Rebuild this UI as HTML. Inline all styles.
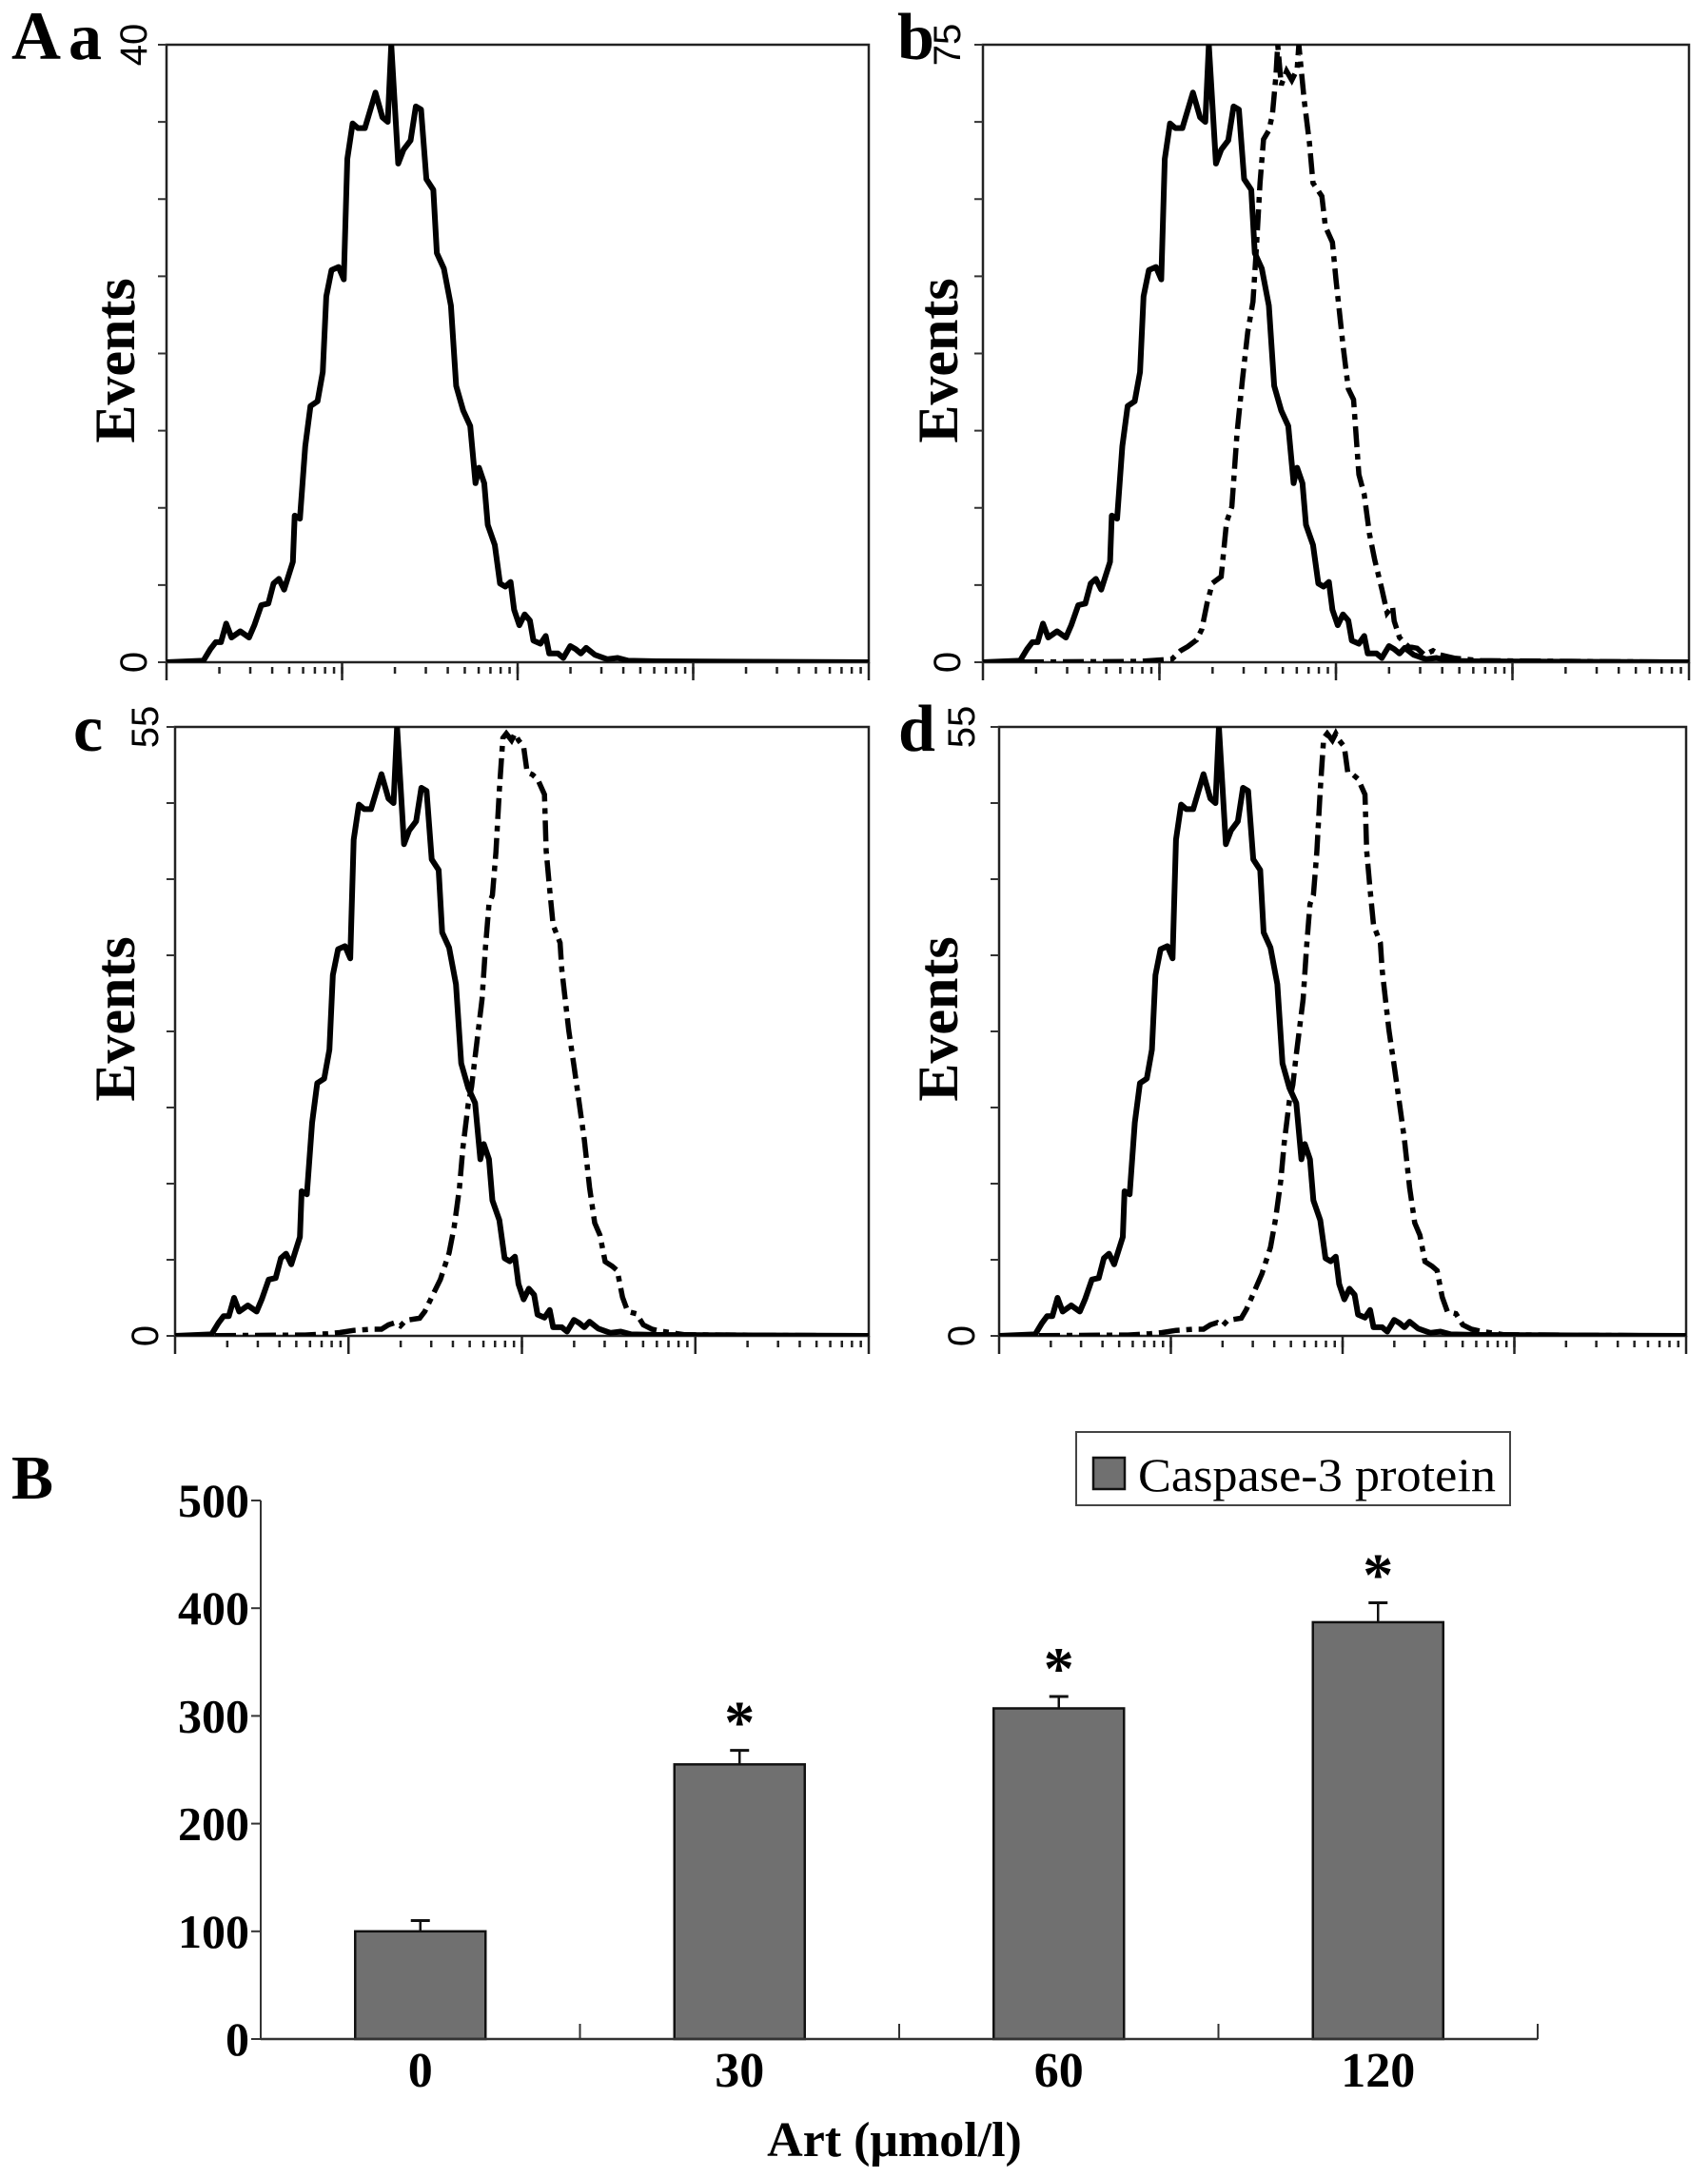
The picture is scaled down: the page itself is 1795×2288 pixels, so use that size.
<!DOCTYPE html>
<html><head><meta charset="utf-8">
<style>
html,body{margin:0;padding:0;background:#fff;}
svg{display:block;}
.serif{font-family:"Liberation Serif",serif;}
.sans{font-family:"Liberation Sans",sans-serif;}
</style></head>
<body>
<svg id="fig" width="1795" height="2288" viewBox="0 0 1795 2288" xmlns="http://www.w3.org/2000/svg"></svg>
<script>
// ---------- Histogram data (x in log decades 0..4, counts) ----------
const solidX = [0,0.21,0.25,0.28,0.31,0.34,0.37,0.42,0.47,0.50,0.54,0.58,0.61,0.64,0.67,0.72,0.73,0.76,0.79,0.82,0.86,0.89,0.91,0.94,0.98,1.01,1.03,1.06,1.09,1.13,1.19,1.23,1.26,1.28,1.32,1.35,1.39,1.42,1.45,1.48,1.52,1.54,1.58,1.62,1.65,1.69,1.73,1.76,1.78,1.81,1.83,1.87,1.90,1.93,1.96,1.98,2.01,2.04,2.07,2.09,2.13,2.16,2.18,2.23,2.26,2.30,2.33,2.36,2.39,2.44,2.51,2.57,2.63,2.79,4.0];
const solidY = [0,0.1,0.85,1.3,1.3,2.5,1.6,2.0,1.6,2.4,3.7,3.8,5.1,5.4,4.7,6.5,9.5,9.3,14.0,16.6,16.9,18.8,23.7,25.4,25.6,24.8,32.6,34.9,34.6,34.6,36.9,35.3,35.0,40.0,32.3,33.2,33.8,36.0,35.8,31.3,30.6,26.5,25.5,23.1,17.9,16.3,15.3,11.6,12.6,11.6,8.9,7.6,5.1,4.9,5.2,3.4,2.4,3.1,2.7,1.4,1.2,1.7,0.57,0.57,0.28,1.05,0.85,0.57,0.93,0.48,0.2,0.28,0.1,0.06,0];
const dashBX = [0,0.89,1.07,1.12,1.16,1.21,1.24,1.27,1.30,1.35,1.38,1.41,1.44,1.47,1.50,1.53,1.55,1.57,1.59,1.62,1.64,1.66,1.67,1.69,1.72,1.75,1.78,1.79,1.82,1.85,1.87,1.92,1.94,1.98,2.00,2.04,2.07,2.10,2.13,2.16,2.19,2.22,2.26,2.29,2.32,2.33,2.36,2.41,2.46,2.50,2.55,2.59,2.67,2.82,4.0];
const dashBY = [0,0.1,0.37,1.4,1.9,2.7,4.0,7.2,9.6,10.4,17.0,18.9,27.9,34.3,40.1,43.8,50.5,58.2,63.5,64.6,66.5,71.2,75,70.1,71.8,70.7,72.0,75,68.3,63.0,58.2,56.6,52.9,51.0,46.5,38.5,33.2,31.9,22.8,20.4,15.6,12.4,8.9,6.0,6.8,5.0,3.0,1.9,1.7,0.9,1.4,0.9,0.5,0.2,0];
const dashCX = [0,0.75,0.88,0.95,1.03,1.13,1.19,1.23,1.27,1.30,1.33,1.41,1.44,1.48,1.53,1.58,1.61,1.64,1.66,1.69,1.71,1.73,1.77,1.79,1.81,1.83,1.85,1.87,1.89,1.91,1.94,1.96,1.98,2.01,2.03,2.06,2.09,2.13,2.14,2.16,2.18,2.22,2.23,2.27,2.30,2.33,2.36,2.39,2.42,2.45,2.48,2.52,2.55,2.58,2.61,2.66,2.70,2.75,2.81,2.94,4.0];
const dashCY = [0,0.08,0.2,0.3,0.5,0.6,0.6,1.0,1.2,0.9,1.4,1.6,2.2,3.5,5.1,7.5,9.9,13.4,17.0,20.9,22.5,25.2,30.4,35.1,39.0,39.8,43.7,49.3,54.0,54.4,53.8,54.4,53.8,53.2,50.9,50.7,50.3,48.9,43.8,40.3,37.1,35.5,33.1,27.6,24.4,21.1,17.7,13.4,10.2,9.1,6.7,6.3,5.9,3.5,2.2,2.0,1.0,0.6,0.4,0.1,0];
const dashDX = [0,0.75,0.88,0.95,1.03,1.13,1.19,1.23,1.27,1.30,1.33,1.41,1.44,1.48,1.53,1.58,1.61,1.64,1.66,1.69,1.71,1.73,1.77,1.79,1.81,1.83,1.85,1.87,1.89,1.91,1.94,1.96,1.98,2.01,2.03,2.06,2.09,2.13,2.14,2.16,2.18,2.22,2.23,2.27,2.30,2.33,2.36,2.39,2.42,2.45,2.48,2.52,2.55,2.58,2.61,2.66,2.70,2.75,2.81,2.94,4.0];
const dashDY = [0,0.08,0.2,0.3,0.5,0.6,0.6,1.0,1.2,0.9,1.4,1.6,2.4,3.8,5.6,8.0,10.6,14.0,17.4,21.2,22.7,25.4,30.4,35.1,39.0,39.8,43.7,49.3,54.0,54.4,53.8,54.4,53.8,53.2,50.9,50.7,50.3,48.9,43.8,40.3,37.1,35.5,33.1,27.6,24.4,21.1,17.7,13.4,10.2,9.1,6.7,6.3,5.9,3.5,2.2,2.0,1.0,0.6,0.4,0.1,0];
const panelMax = [40, 75, 55, 55];
const panelLetters = ['a','b','c','d'];

// ---------- Bar chart data ----------
const barCats = ['0','30','60','120'];
const barVals = [100, 255, 307, 387];
const barErr = [10, 13, 11, 18];
const barSig = [false, true, true, true];
const barTicks = [0,100,200,300,400,500];

const NS = 'http://www.w3.org/2000/svg';
const svg = document.getElementById('fig');
function el(tag, attrs, parent, text){
  const e = document.createElementNS(NS, tag);
  for (const k in attrs) e.setAttribute(k, attrs[k]);
  if (text !== undefined) e.textContent = text;
  (parent || svg).appendChild(e);
  return e;
}

const panels = [
  {L:175, R:913, T:47, B:696, lx:72, ly:62, lblX:140, evX:141, evY:379},
  {L:1033, R:1775, T:47, B:696, lx:943, ly:62, lblX:995, evX:1006, evY:379},
  {L:184, R:913, T:764, B:1404, lx:77, ly:789, lblX:152, evX:141, evY:1071},
  {L:1050, R:1772, T:764, B:1404, lx:944, ly:789, lblX:1010, evX:1006, evY:1071}
];
const dashSets = [null, [dashBX,dashBY], [dashCX,dashCY], [dashDX,dashDY]];

const tA = el('text', {x:12, y:62, 'font-size':72, 'font-weight':'bold', class:'serif'}, svg, 'A');



panels.forEach((p, i) => {
  const g = el('g', {});
  
  
  const W = p.R - p.L, H = p.B - p.T, ymax = panelMax[i];
  const sx = u => p.L + u / 4 * W;
  const sy = v => p.B - v / ymax * H;
  const fr = el('rect', {x:p.L, y:p.T, width:W, height:H, fill:'none', stroke:'#222', 'stroke-width':2.5}, g);
  
  
  for (let k = 0; k <= 8; k++) {
    const y = p.T + k * H / 8;
    const t = el('line', {x1:p.L-9, x2:p.L, y1:y, y2:y, stroke:'#333', 'stroke-width':2}, g);
    
    
  }
  for (let d = 0; d < 4; d++) {
    for (let m = 1; m <= 10; m++) {
      const u = d + Math.log10(m);
      if (m === 1 && d === 0) continue;
      const major = (m === 10);
      const x = sx(u);
      const t = el('line', {x1:x, x2:x, y1: major ? p.B : p.B + 5, y2: major ? p.B + 19 : p.B + 12, stroke:'#222', 'stroke-width':2.5}, g);
      
      
    }
  }
  const t0 = el('line', {x1:p.L, x2:p.L, y1:p.B, y2:p.B+19, stroke:'#222', 'stroke-width':2.5}, g);
  
  
  const top = el('text', {x:0, y:0, 'font-size':40, class:'sans', 'text-anchor':'middle', transform:`translate(${p.lblX + 14},${p.T}) rotate(-90)`}, g, String(ymax));
  
  
  const zero = el('text', {x:0, y:0, 'font-size':40, class:'sans', 'text-anchor':'middle', transform:`translate(${p.lblX + 14},${p.B}) rotate(-90)`}, g, '0');
  
  
  const ev = el('text', {x:0, y:0, 'font-size':60, 'font-weight':'bold', class:'serif', 'text-anchor':'middle', transform:`translate(${p.evX},${p.evY}) rotate(-90)`}, g, 'Events');
  
  
  const lt = el('text', {x:p.lx, y:p.ly, 'font-size':70, 'font-weight':'bold', class:'serif'}, g, panelLetters[i]);
  
  
  const cp = el('clipPath', {id:'clip'+i}, g);
  el('rect', {x:p.L, y:p.T, width:W, height:H}, cp);
  const sMax = Math.max(...solidY);
  const ptsS = solidX.map((u, j) => sx(u).toFixed(1) + ',' + sy(solidY[j] / sMax * ymax).toFixed(1)).join(' ');
  const sl = el('polyline', {points:ptsS, fill:'none', stroke:'#000', 'stroke-width':6, 'stroke-linejoin':'round', 'clip-path':`url(#clip${i})`}, g);
  
  
  if (dashSets[i]) {
    const [dx, dy] = dashSets[i];
    const ptsD = dx.map((u, j) => sx(u).toFixed(1) + ',' + sy(dy[j]).toFixed(1)).join(' ');
    const dl = el('polyline', {points:ptsD, fill:'none', stroke:'#000', 'stroke-width':5.5, 'stroke-dasharray':'22,7,6,7', 'clip-path':`url(#clip${i})`}, g);
    
    
  }
});

(function(){
  const g = el('g', {});
  
  
  const L = 274, R = 1616, B = 2143, yTop = 1577, vmax = 500;
  const sy = v => B - v / vmax * (B - yTop);
  const band = (R - L) / barCats.length;
  const cx = i => L + band * (i + 0.5);
  const lb = el('text', {x:12, y:1575, 'font-size':66, 'font-weight':'bold', class:'serif'}, g, 'B');
  
  
  const ya = el('line', {x1:L, x2:L, y1:yTop, y2:B, stroke:'#333', 'stroke-width':2}, g);
  
  
  barTicks.forEach(v => {
    const t = el('line', {x1:L-10, x2:L, y1:sy(v), y2:sy(v), stroke:'#333', 'stroke-width':2}, g);
    
    
    const tl = el('text', {x:L-12, y:sy(v)+17, 'font-size':50, 'font-weight':'bold', class:'serif', 'text-anchor':'end'}, g, String(v));
    
    
  });
  barCats.forEach((c, i) => {
    const x = cx(i), bw = 137, top = sy(barVals[i]);
    const r = el('rect', {x:x-bw/2, y:top, width:bw, height:B-top, fill:'#707070', stroke:'#111', 'stroke-width':2.5}, g);
    
    
    const et = sy(barVals[i] + barErr[i]);
    const e1 = el('line', {x1:x, x2:x, y1:top, y2:et, stroke:'#111', 'stroke-width':2.5}, g);
    
    
    const e2 = el('line', {x1:x-10, x2:x+10, y1:et, y2:et, stroke:'#111', 'stroke-width':3}, g);
    
    
    if (barSig[i]) {
      const s = el('text', {x:x, y:et-8, 'font-size':64, 'font-weight':'bold', class:'serif', 'text-anchor':'middle'}, g, '*');
      
      
    }
    const xl = el('text', {x:x, y:2193, 'font-size':52, 'font-weight':'bold', class:'serif', 'text-anchor':'middle'}, g, c);
    
    
    const tk = el('line', {x1:L+band*(i+1), x2:L+band*(i+1), y1:B-16, y2:B, stroke:'#333', 'stroke-width':2}, g);
    
    
  });
  const xa = el('line', {x1:L, x2:R, y1:B, y2:B, stroke:'#333', 'stroke-width':2.5}, g);
  
  
  const xt = el('text', {x:940, y:2266, 'font-size':52, 'font-weight':'bold', class:'serif', 'text-anchor':'middle'}, g, 'Art (μmol/l)');
  
  
  const lg = el('g', {}, g);
  
  
  el('rect', {x:1131, y:1505, width:456, height:77, fill:'#fff', stroke:'#444', 'stroke-width':2}, lg);
  const sw = el('rect', {x:1149, y:1532, width:33, height:33, fill:'#707070', stroke:'#111', 'stroke-width':2.5}, lg);
  
  
  const ltx = el('text', {x:1196, y:1567, 'font-size':50, class:'serif', textLength:376, lengthAdjust:'spacingAndGlyphs'}, lg, 'Caspase-3 protein');
  
  
})();
</script>
</body></html>
